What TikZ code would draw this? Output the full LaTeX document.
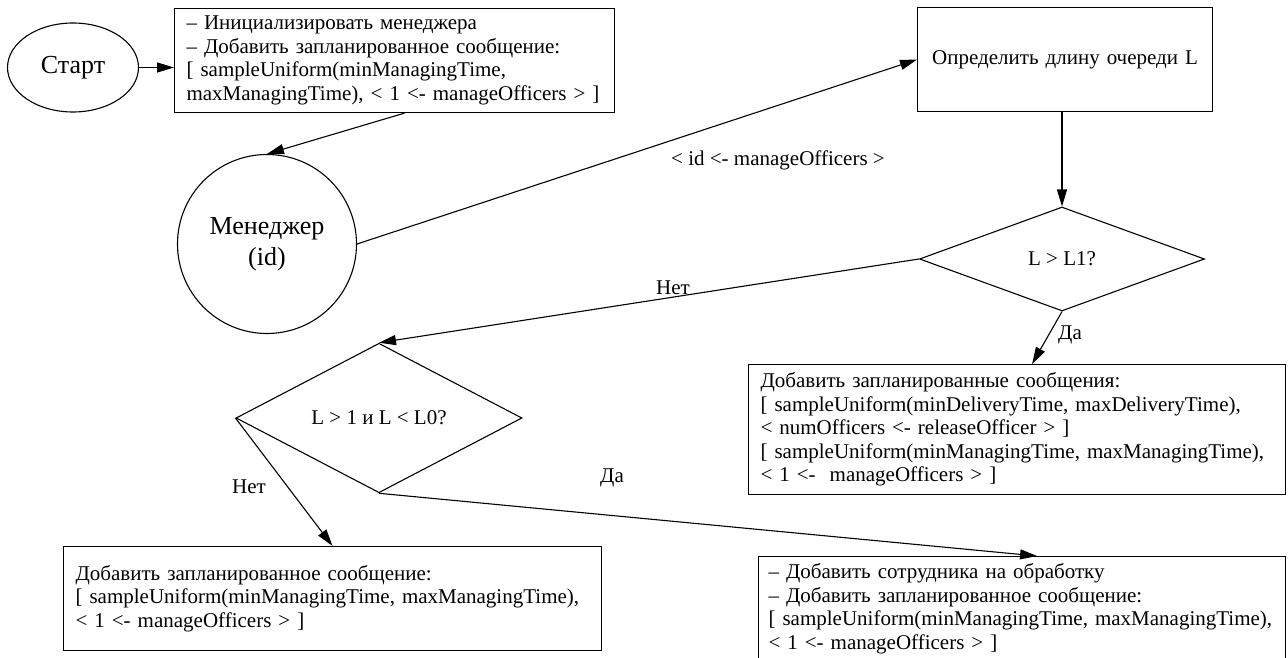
\documentclass[tikz,border=0pt]{standalone}
\usepackage{fontspec}
\setmainfont{Liberation Serif}
\usetikzlibrary{shapes.geometric,arrows.meta,calc}
\begin{document}
\begin{tikzpicture}[x=1pt,y=-1pt,
  line width=1.1pt,
  txt/.style={font=\fontsize{21}{23.5}\selectfont},
  big/.style={font=\fontsize{26}{31}\selectfont},
  box/.style={draw, rectangle, txt, align=left, inner xsep=12pt, inner ysep=0pt, anchor=north west},
  dia/.style={draw, diamond, txt, inner sep=0pt, minimum width=285pt, minimum height=104pt},
  arr/.style={-{Triangle[length=17pt,width=10pt]}},
  lbl/.style={txt, inner sep=0pt}]
\path[use as bounding box] (0,0) rectangle (1288,658);

\node[draw, ellipse, big, minimum width=131pt, minimum height=89pt, inner sep=0pt] (start) at (73,67.5) {Старт};

\node[box, text width=416pt, minimum height=104pt] (init) at (174,8) {– Инициализировать менеджера\\– Добавить запланированное сообщение:\\{[} sampleUniform(minManagingTime,\\maxManagingTime), < 1 <- manageOfficers > ]};

\node[draw, circle, big, align=center, minimum size=179pt, inner sep=0pt] (mgr) at (267,244) {Менеджер\\(id)};

\node[box, align=center, text width=271pt, minimum height=104pt] (qlen) at (917,7) {Определить длину очереди L};

\node[dia] (d1) at (1062,259) {L > L1?};
\node[dia, minimum width=286pt, minimum height=105pt] (d2) at (379,418) {L > 1 и L < L0?};

\node[box, text width=513pt, minimum height=130pt] (yes1) at (748,364) {Добавить запланированные сообщения:\\{[} sampleUniform(minDeliveryTime, maxDeliveryTime),\\< numOfficers <- releaseOfficer > ]\\{[} sampleUniform(minManagingTime, maxManagingTime),\\< 1 <-\ \ manageOfficers > ]};

\node[box, text width=514pt, minimum height=104pt] (no2) at (63,546) {Добавить запланированное сообщение:\\{[} sampleUniform(minManagingTime, maxManagingTime),\\< 1 <- manageOfficers > ]};

\node[box, inner xsep=10pt, text width=507pt, minimum height=104pt] (yes2) at (758,556) {– Добавить сотрудника на обработку\\– Добавить запланированное сообщение:\\{[} sampleUniform(minManagingTime, maxManagingTime),\\< 1 <- manageOfficers > ]};

\draw[arr] (start.east) -- (start.east -| init.west);
\draw[arr] ($(init.south)+(10,0)$) -- (mgr.north);
\draw[arr] (mgr.east) -- (qlen.west);
\draw[arr] (d1.north |- qlen.south) -- (d1.north);
\draw[arr] (d1.west) -- (d2.north);
\draw[arr] (d1.south) -- ($(yes1.north)+(15,0)$);
\draw[arr] (d2.west) -- (no2.north);
\draw[arr] (d2.south) -- ($(yes2.north)+(15,0)$);

\node[lbl] (l1) at (778,160) {< id <- manageOfficers >};
\node[lbl] (l2) at (673,288) {Нет};
\node[lbl] (l3) at (1070,335) {Да};
\node[lbl] (l4) at (249,487) {Нет};
\node[lbl] (l5) at (612,478) {Да};
\end{tikzpicture}
\end{document}
